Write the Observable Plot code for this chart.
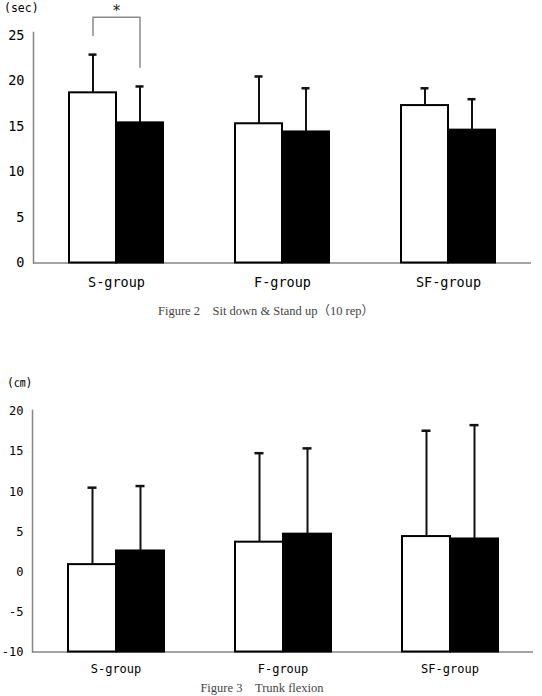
<!DOCTYPE html>
<html>
<head>
<meta charset="utf-8">
<script src="https://cdn.jsdelivr.net/npm/d3@7"></script>
<script src="https://cdn.jsdelivr.net/npm/@observablehq/plot@0.6"></script>
<style>
  html, body { margin: 0; padding: 0; background: #fff; }
  #page { position: relative; width: 542px; height: 696px; overflow: hidden; background: #fff; }
  .fig { position: absolute; left: 0; }
  .fig svg { display: block; }
  .fig svg text { paint-order: stroke; }
  .unit { position: absolute; font: 11.5px/11.5px "DejaVu Sans Mono", "Noto Sans CJK JP", monospace; color: #000; white-space: nowrap; }
  .caption { position: absolute; left: 0; text-align: center; font: 12.5px/12.5px "Liberation Serif", "Noto Sans CJK JP", serif; color: #444; white-space: nowrap; }
</style>
</head>
<body>
<div id="page">
  <div class="fig" id="fig2" style="top:0px"></div>
  <div class="unit" style="left:4px; top:3.4px">(sec)</div>
  <div class="caption" style="top:304.8px; width:532px">Figure 2　Sit down &amp; Stand up（10 rep）</div>

  <div class="fig" id="fig3" style="top:400px"></div>
  <div class="unit" style="left:7px; top:378.4px">(㎝)</div>
  <div class="caption" style="top:682px; width:524px">Figure 3　Trunk flexion</div>
</div>
<script>
// Groups and measurement occasions (white = pre, black = post)
const groups = ["S-group", "F-group", "SF-group"];
const conditions = ["pre", "post"];

// Figure 2: sit down & stand up, 10 repetitions (sec), mean and SD
const sitStandPre = [18.7, 15.3, 17.3];
const sitStandPreSD = [4.2, 5.2, 1.9];
const sitStandPost = [15.4, 14.4, 14.6];
const sitStandPostSD = [4.0, 4.8, 3.4];
const sitStandTicks = [0, 5, 10, 15, 20, 25];

// Figure 3: trunk flexion (cm), mean and SD
const trunkPre = [0.9, 3.7, 4.4];
const trunkPreSD = [9.6, 11.1, 13.2];
const trunkPost = [2.6, 4.7, 4.1];
const trunkPostSD = [8.1, 10.7, 14.2];
const trunkTicks = [-10, -5, 0, 5, 10, 15, 20];

// Significant pre/post difference marked in Figure 2
const sitStandSignificant = [{group: "S-group", label: "*"}];

function makeRows(pre, preSD, post, postSD) {
  return groups.flatMap((g, i) => [
    {group: g, cond: "pre", mean: pre[i], sd: preSD[i], top: pre[i] + preSD[i]},
    {group: g, cond: "post", mean: post[i], sd: postSD[i], top: post[i] + postSD[i]}
  ]);
}

const AXIS_GRAY = "#858585";
const INK = "#111";

function chart({rows, ticks, base, yRange, height, marginTop, marginBottom, marginLeft, marginRight, fontSize, tickPadding, brackets = []}) {
  // Bracket over the bars of a significant group, drawn from its error-bar tops
  const bracketLines = [];
  const bracketText = [];
  for (const b of brackets) {
    const pre = rows.find(d => d.group === b.group && d.cond === "pre");
    const post = rows.find(d => d.group === b.group && d.cond === "post");
    const topY = Math.max(pre.top, post.top) + 4.1;
    const gap = 2.1;
    bracketLines.push(
      {group: b.group, cond: "pre", y: pre.top + gap},
      {group: b.group, cond: "pre", y: topY},
      {group: b.group, cond: "post", y: topY},
      {group: b.group, cond: "post", y: post.top + gap}
    );
    bracketText.push({group: b.group, label: b.label, y: topY + 0.7});
  }

  return Plot.plot({
    width: 542,
    height,
    marginTop,
    marginBottom,
    marginLeft,
    marginRight,
    style: {fontFamily: "'DejaVu Sans Mono', monospace", fontSize: `${fontSize}px`, color: "#000", background: "transparent"},
    fx: {domain: groups, padding: 0, axis: null},
    x: {domain: conditions, paddingInner: 0, paddingOuter: 0.73, axis: null},
    y: {domain: [ticks[0], ticks[ticks.length - 1]], range: yRange, axis: null},
    color: {domain: conditions, range: ["white", "black"]},
    marks: [
      Plot.frame({anchor: "left", facetAnchor: "left", stroke: AXIS_GRAY, strokeWidth: 1.5}),
      Plot.ruleY([base], {stroke: AXIS_GRAY, strokeWidth: 1.5}),
      Plot.barY(rows, {fx: "group", x: "cond", y1: base, y2: "mean", fill: "cond", stroke: "black", strokeWidth: 2}),
      Plot.ruleX(rows, {fx: "group", x: "cond", y1: "mean", y2: "top", stroke: INK, strokeWidth: 2}),
      Plot.tickY(rows, {fx: "group", x: "cond", y: "top", stroke: INK, strokeWidth: 2.5, insetLeft: 19.5, insetRight: 19.5}),
      Plot.line(bracketLines, {fx: "group", x: "cond", y: "y", stroke: "#8a8a8a", strokeWidth: 1.5}),
      Plot.text(bracketText, {fx: "group", y: "y", text: "label", fontSize: 15, fill: "#222"}),
      Plot.axisY({ticks, tickSize: 0, tickPadding: tickPadding.y, tickFormat: d => String(d), label: null, stroke: "#000", strokeWidth: 0.3}),
      Plot.axisFx({anchor: "bottom", tickSize: 0, tickPadding: tickPadding.x, label: null, stroke: "#000", strokeWidth: 0.3})
    ]
  });
}

document.getElementById("fig2").append(chart({
  rows: makeRows(sitStandPre, sitStandPreSD, sitStandPost, sitStandPostSD),
  ticks: sitStandTicks,
  base: 0,
  yRange: [262.5, 35],
  height: 300,
  marginTop: 32,
  marginBottom: 37.5,
  marginLeft: 33,
  marginRight: 11,
  fontSize: 13.5,
  tickPadding: {x: 14, y: 9},
  brackets: sitStandSignificant
}));

document.getElementById("fig3").append(chart({
  rows: makeRows(trunkPre, trunkPreSD, trunkPost, trunkPostSD),
  ticks: trunkTicks,
  base: -10,
  yRange: [251.5, 11],
  height: 285,
  marginTop: 10,
  marginBottom: 33.5,
  marginLeft: 31,
  marginRight: 9,
  fontSize: 12,
  tickPadding: {x: 12.7, y: 9}
}));
</script>
</body>
</html>
